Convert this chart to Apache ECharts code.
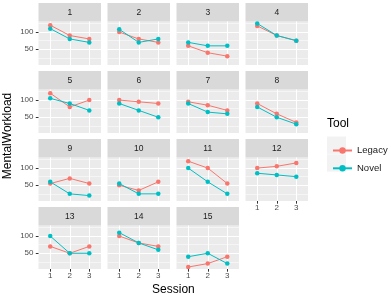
<!DOCTYPE html>
<html>
<head>
<meta charset="utf-8">
<script src="https://cdn.jsdelivr.net/npm/echarts@6/dist/echarts.min.js"></script>
<style>
  html, body { margin: 0; padding: 0; background: #fff; }
  #chart { width: 391px; height: 295px; }
</style>
</head>
<body>
<div id="chart"></div>
<script>
// facet labels, sessions, values per panel (Session 1..3)
const panels = ['1', '2', '3', '4', '5', '6', '7', '8', '9', '10', '11', '12', '13', '14', '15'];
const sessions = [1, 2, 3];
const legacy = [
  [120, 90, 80], [100, 80, 70], [60, 40, 30], [118, 90, 75],
  [120, 80, 100], [100, 95, 90], [95, 85, 70], [90, 60, 35],
  [55, 70, 55], [50, 35, 60], [120, 100, 55], [100, 105, 115],
  [70, 50, 70], [100, 80, 70], [10, 20, 40]
];
const novel = [
  [110, 80, 70], [108, 70, 80], [70, 60, 60], [125, 90, 75],
  [105, 90, 70], [90, 70, 50], [90, 65, 60], [80, 50, 30],
  [60, 25, 20], [55, 25, 25], [100, 60, 25], [85, 80, 75],
  [100, 50, 50], [110, 80, 60], [40, 50, 20]
];
const yMajor = [50, 100];
const yMinor = [25, 75, 125];

const FONT = '"Liberation Sans", Arial, sans-serif';
const RED = '#F8766D';
const TEAL = '#00BFC4';

// panel layout (facet_wrap, 4 columns)
const colLeft = [38.5, 107.5, 176.5, 245.5];
const rowTop = [3, 71, 139, 207];
const panelW = 62.5, stripH = 18.5, plotH = 43.5;

const grid = [], xAxis = [], yAxis = [], series = [], graphic = [];

panels.forEach((name, i) => {
  const col = i % 4, row = Math.floor(i / 4);
  const left = colLeft[col], top = rowTop[row];
  const showX = i >= 11;
  const showY = col === 0;

  grid.push({
    left: left, top: top + stripH, width: panelW, height: plotH,
    show: true, backgroundColor: '#ebebeb', borderWidth: 0
  });

  xAxis.push({
    type: 'value', gridIndex: i, min: 0.4, max: 3.6,
    axisLine: { show: false },
    axisTick: { show: showX, customValues: sessions, length: 2.7, lineStyle: { color: '#333', width: 1 } },
    axisLabel: { show: showX, customValues: sessions, margin: 3, color: '#4d4d4d', fontSize: 8, fontFamily: FONT },
    splitLine: { show: true, lineStyle: { color: '#fff', width: 1 } }
  });

  yAxis.push({
    type: 'value', gridIndex: i, min: 4.25, max: 130.75,
    axisLine: { show: false },
    axisTick: { show: showY, customValues: yMajor, length: 2.7, lineStyle: { color: '#333', width: 1 } },
    axisLabel: { show: showY, customValues: yMajor, margin: 5, color: '#4d4d4d', fontSize: 8, fontFamily: FONT },
    splitLine: { show: true, lineStyle: { color: '#fff', width: 1 } }
  });
  yAxis.push({
    type: 'value', gridIndex: i, min: 4.25, max: 130.75, position: 'left',
    axisLine: { show: false },
    axisTick: { show: false, customValues: yMinor },
    axisLabel: { show: false },
    splitLine: { show: true, lineStyle: { color: '#fff', width: 0.5 } }
  });

  series.push({
    name: 'Legacy', type: 'line', xAxisIndex: i, yAxisIndex: 2 * i,
    data: sessions.map((s, k) => [s, legacy[i][k]]),
    symbol: 'circle', symbolSize: 4.5, z: 3,
    itemStyle: { color: RED }, lineStyle: { color: RED, width: 1 }
  });
  series.push({
    name: 'Novel', type: 'line', xAxisIndex: i, yAxisIndex: 2 * i,
    data: sessions.map((s, k) => [s, novel[i][k]]),
    symbol: 'circle', symbolSize: 4.5, z: 4,
    itemStyle: { color: TEAL }, lineStyle: { color: TEAL, width: 1 }
  });

  // strip
  graphic.push({
    type: 'rect', shape: { x: left, y: top, width: panelW, height: stripH },
    style: { fill: '#d9d9d9' }, silent: true
  });
  graphic.push({
    type: 'text', x: left + panelW / 2, y: top + stripH / 2 + 0.5,
    style: { text: name, align: 'center', verticalAlign: 'middle', fill: '#1a1a1a', font: '8.5px ' + FONT },
    silent: true
  });
});

// legend key backgrounds and titles
graphic.push({ type: 'rect', shape: { x: 327, y: 136.5, width: 19, height: 17.3 }, style: { fill: '#f2f2f2' }, silent: true, z: 0 });
graphic.push({ type: 'rect', shape: { x: 327, y: 154.3, width: 19, height: 17.3 }, style: { fill: '#f2f2f2' }, silent: true, z: 0 });
graphic.push({
  type: 'text', x: 327, y: 124,
  style: { text: 'Tool', align: 'left', verticalAlign: 'middle', fill: '#000', font: '12px ' + FONT }
});
graphic.push({
  type: 'text', x: 173.4, y: 289.5,
  style: { text: 'Session', align: 'center', verticalAlign: 'middle', fill: '#000', font: '12px ' + FONT }
});
graphic.push({
  type: 'text', x: 8, y: 136, rotation: Math.PI / 2,
  style: { text: 'MentalWorkload', align: 'center', verticalAlign: 'middle', fill: '#000', font: '12px ' + FONT }
});

const chart = echarts.init(document.getElementById('chart'));
chart.setOption({
  animation: false,
  grid: grid,
  xAxis: xAxis,
  yAxis: yAxis,
  series: series,
  graphic: graphic,
  legend: {
    data: ['Legacy', 'Novel'],
    orient: 'vertical', left: 327, top: 139.5,
    itemWidth: 19, itemHeight: 8, itemGap: 5.8,
    selectedMode: false, z: 10,
    textStyle: { fontSize: 9.5, color: '#1a1a1a', fontFamily: FONT, lineHeight: 12 }
  }
});
</script>
</body>
</html>
